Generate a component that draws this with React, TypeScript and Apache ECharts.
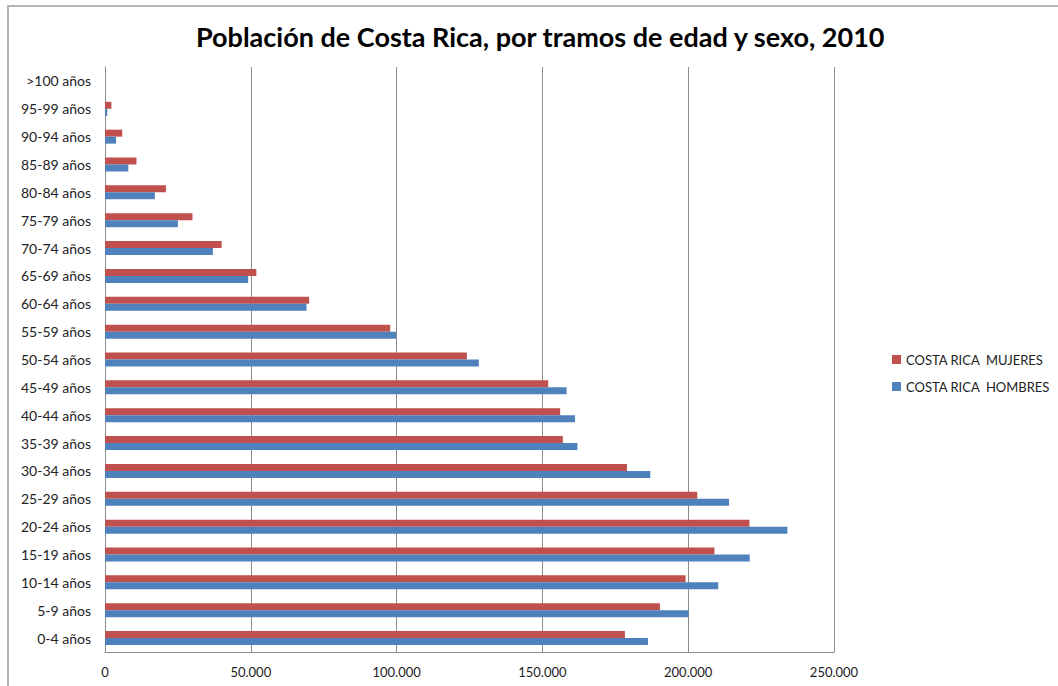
import React, { useEffect, useRef } from "react";
import * as echarts from "echarts";

const categories = [
  "0-4 años", "5-9 años", "10-14 años", "15-19 años", "20-24 años", "25-29 años",
  "30-34 años", "35-39 años", "40-44 años", "45-49 años", "50-54 años", "55-59 años",
  "60-64 años", "65-69 años", "70-74 años", "75-79 años", "80-84 años", "85-89 años",
  "90-94 años", "95-99 años", ">100 años",
];

const mujeres = [
  178300, 190300, 199100, 209000, 221000, 203100, 179000, 157000, 156100, 152000,
  124100, 97800, 70000, 51900, 40000, 30000, 20900, 10800, 5900, 2200, 0,
];

const hombres = [
  186200, 200200, 210300, 221100, 234000, 214000, 187000, 162000, 161200, 158300,
  128200, 99900, 69100, 49100, 37000, 25000, 17100, 8000, 3800, 800, 0,
];

const xTicks = { min: 0, max: 250000, interval: 50000 };

const title = "Población de Costa Rica, por tramos de edad y sexo, 2010";
const nameM = "COSTA RICA  MUJERES";
const nameH = "COSTA RICA  HOMBRES";

const fmt = (v: number) => String(v).replace(/\B(?=(\d{3})+(?!\d))/g, ".");

export default function App() {
  const ref = useRef<HTMLDivElement>(null);
  useEffect(() => {
    if (!ref.current) return;
    const chart = echarts.init(ref.current, null, { renderer: "svg" });
    const font = "Lato, 'Open Sans', sans-serif";
    chart.setOption({
      animation: false,
      backgroundColor: "#ffffff",
      textStyle: { fontFamily: font },
      title: {
        text: title,
        left: 191,
        top: 18,
        textStyle: { fontFamily: font, fontSize: 27, fontWeight: "bold", color: "#000" },
      },
      graphic: [
        {
          type: "rect",
          shape: { x: 8, y: 6, width: 1060, height: 700 },
          style: { fill: "none", stroke: "#b5b5b5", lineWidth: 2 },
          silent: true,
        },
      ],
      legend: {
        orient: "vertical",
        left: 887,
        top: 347,
        itemWidth: 9,
        itemHeight: 9,
        itemGap: 12,
        icon: "rect",
        data: [nameM, nameH],
        textStyle: { fontFamily: font, fontSize: 13, color: "#222", lineHeight: 15 },
      },
      grid: { left: 105, right: 224, top: 67, bottom: 34, containLabel: false },
      xAxis: {
        type: "value",
        min: xTicks.min,
        max: xTicks.max,
        interval: xTicks.interval,
        axisLine: { show: true, lineStyle: { color: "#8c8c8c", width: 1 } },
        axisTick: { show: false },
        splitLine: { show: true, lineStyle: { color: "#8c8c8c", width: 1 } },
        axisLabel: {
          margin: 13,
          fontFamily: font,
          fontSize: 13,
          color: "#222",
          formatter: (v: number) => fmt(v),
        },
      },
      yAxis: {
        type: "category",
        data: categories,
        axisLine: { show: true, lineStyle: { color: "#8c8c8c", width: 1 } },
        axisTick: { show: false },
        axisLabel: { margin: 14, fontFamily: font, fontSize: 14, color: "#222" },
      },
      series: [
        {
          name: nameM,
          type: "bar",
          data: mujeres,
          barWidth: 7,
          barGap: "0%",
          itemStyle: { color: "#C0504D" },
        },
        {
          name: nameH,
          type: "bar",
          data: hombres,
          barWidth: 7,
          barGap: "0%",
          itemStyle: { color: "#4F81BD" },
        },
      ],
    });
    return () => chart.dispose();
  }, []);
  return (
    <div
      ref={ref}
      style={{ position: "absolute", left: 0, top: 0, width: 1058, height: 686 }}
    />
  );
}
